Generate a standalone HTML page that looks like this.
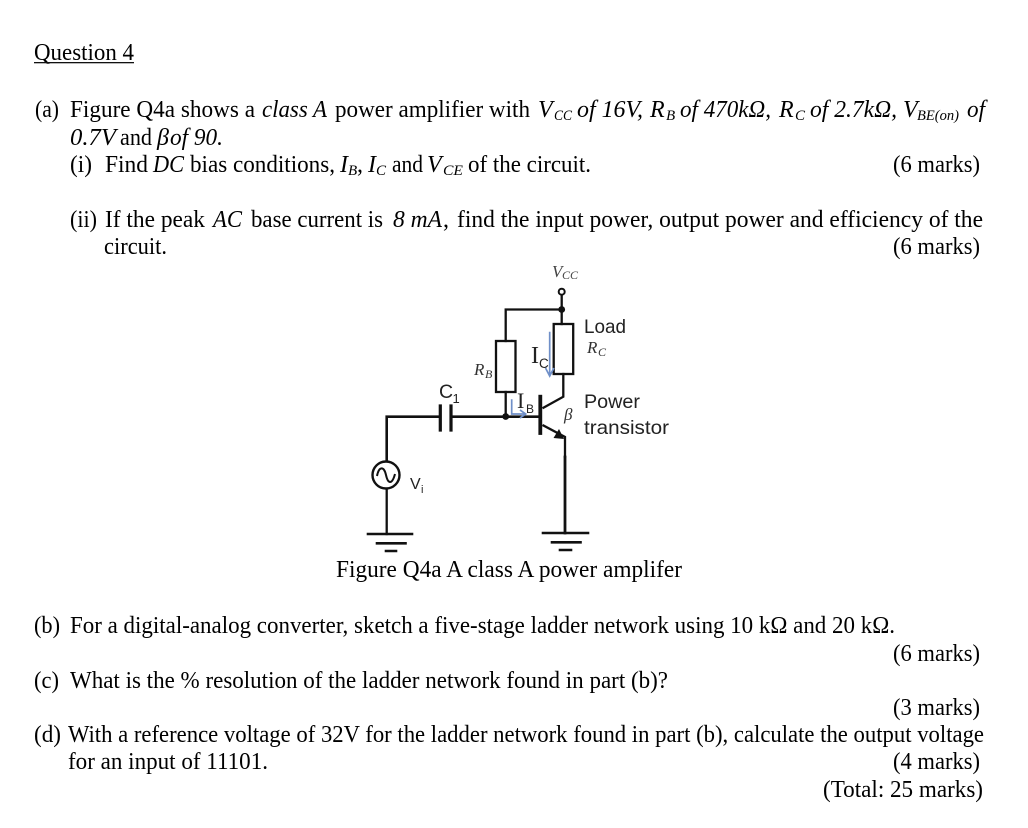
<!DOCTYPE html>
<html><head><meta charset="utf-8">
<style>
html,body{margin:0;padding:0;background:#fff}
svg{display:block;filter:blur(.3px)}
text{font-family:"Liberation Serif",serif;font-size:24px;fill:#000}
.i{font-style:italic}
.s{font-size:15px;font-style:italic}
.a{font-family:"Liberation Sans",sans-serif;font-size:19.500px;fill:#222}
.w{fill:none;stroke:#111;stroke-width:2.300}
</style></head><body>
<svg width="1028" height="828" viewBox="0 0 1028 828" xmlns="http://www.w3.org/2000/svg">
<text x="34" y="60" textLength="100" lengthAdjust="spacingAndGlyphs">Question 4</text>
<rect x="34" y="62" width="100" height="1.300" fill="#111"/>

<text x="35" y="117" textLength="24" lengthAdjust="spacingAndGlyphs">(a)</text>
<text x="70" y="117" textLength="185" lengthAdjust="spacingAndGlyphs">Figure Q4a shows a</text>
<text x="262" y="117" class="i" textLength="65" lengthAdjust="spacingAndGlyphs">class A</text>
<text x="335" y="117" textLength="195" lengthAdjust="spacingAndGlyphs">power amplifier with</text>
<text x="538" y="117" class="i">V</text><text x="554" y="120" class="s" textLength="18" lengthAdjust="spacingAndGlyphs">CC</text>
<text x="577" y="117" class="i" textLength="66" lengthAdjust="spacingAndGlyphs">of 16V,</text>
<text x="650" y="117" class="i">R</text><text x="666" y="120" class="s">B</text>
<text x="680" y="117" class="i" textLength="91" lengthAdjust="spacingAndGlyphs">of 470kΩ,</text>
<text x="779" y="117" class="i">R</text><text x="795" y="120" class="s">C</text>
<text x="810" y="117" class="i" textLength="87" lengthAdjust="spacingAndGlyphs">of 2.7kΩ,</text>
<text x="903" y="117" class="i">V</text><text x="917" y="120" class="s" textLength="42" lengthAdjust="spacingAndGlyphs">BE(on)</text>
<text x="967" y="117" class="i" textLength="18" lengthAdjust="spacingAndGlyphs">of</text>

<text x="70" y="145" class="i" textLength="46" lengthAdjust="spacingAndGlyphs">0.7V</text>
<text x="120" y="145" textLength="32" lengthAdjust="spacingAndGlyphs">and</text>
<text x="157" y="145" class="i">β</text>
<text x="170" y="145" class="i" textLength="53" lengthAdjust="spacingAndGlyphs">of 90.</text>

<text x="70" y="172" textLength="22" lengthAdjust="spacingAndGlyphs">(i)</text>
<text x="105" y="172" textLength="43" lengthAdjust="spacingAndGlyphs">Find</text>
<text x="153" y="172" class="i" textLength="31" lengthAdjust="spacingAndGlyphs">DC</text>
<text x="190" y="172" textLength="145" lengthAdjust="spacingAndGlyphs">bias conditions,</text>
<text x="340" y="172" class="i">I</text><text x="348" y="175" class="s">B</text><text x="357" y="172">,</text>
<text x="368" y="172" class="i">I</text><text x="376" y="175" class="s">C</text>
<text x="392" y="172" textLength="31" lengthAdjust="spacingAndGlyphs">and</text>
<text x="427" y="172" class="i">V</text><text x="443" y="175" class="s" textLength="20" lengthAdjust="spacingAndGlyphs">CE</text>
<text x="468" y="172" textLength="123" lengthAdjust="spacingAndGlyphs">of the circuit.</text>
<text x="893" y="172" textLength="87" lengthAdjust="spacingAndGlyphs">(6 marks)</text>

<text x="70" y="227" textLength="27" lengthAdjust="spacingAndGlyphs">(ii)</text>
<text x="105" y="227" textLength="100" lengthAdjust="spacingAndGlyphs">If the peak</text>
<text x="213" y="227" class="i" textLength="29" lengthAdjust="spacingAndGlyphs">AC</text>
<text x="251" y="227" textLength="132" lengthAdjust="spacingAndGlyphs">base current is</text>
<text x="393" y="227" class="i" textLength="49" lengthAdjust="spacingAndGlyphs">8 mA</text><text x="443" y="227">,</text>
<text x="457" y="227" textLength="526" lengthAdjust="spacingAndGlyphs">find the input power, output power and efficiency of the</text>
<text x="104" y="254" textLength="63" lengthAdjust="spacingAndGlyphs">circuit.</text>
<text x="893" y="254" textLength="87" lengthAdjust="spacingAndGlyphs">(6 marks)</text>

<!-- circuit -->
<g stroke-linecap="square">
<path class="w" d="M561.700 296V324"/>
<path class="w" d="M561.700 309.500H505.700V341"/>
<rect class="w" x="496" y="341" width="19.500" height="51"/>
<path class="w" d="M505.700 392V416"/>
<rect class="w" x="553.700" y="324" width="19.500" height="50"/>
<path class="w" d="M563.300 374V396.700L543.500 407.700"/>
<path d="M540.300 396.700V433" stroke="#111" stroke-width="3.800" fill="none"/>
<path d="M386.700 466V416.700H440M451 416.700H540" fill="none" stroke="#111" stroke-width="2.600"/>
<path d="M440.300 406V430M451 406V430" stroke="#111" stroke-width="3.200" fill="none"/>
<path class="w" d="M543.500 425.500L565 437V457"/>
<path d="M565 457V533" stroke="#111" stroke-width="2.800" fill="none"/>
<path class="w" d="M386.700 489V534"/>
<path d="M368 534H412M377 543.300H405.500M386 551H396M543 533H588M552 542.300H580.500M560 550H571" stroke="#111" stroke-width="2.600" fill="none"/>
</g>
<circle cx="561.700" cy="291.700" r="3" fill="#fff" stroke="#111" stroke-width="2"/>
<circle cx="561.700" cy="309.500" r="3.400" fill="#111"/>
<circle cx="505.700" cy="416.500" r="3.400" fill="#111"/>
<path d="M559 431L564 441L553.500 440Z" fill="#111" transform="translate(0,-2)"/>
<circle cx="386" cy="475" r="13.500" fill="#fff" stroke="#111" stroke-width="2.400"/>
<path d="M377 476C379 466 384 466 386 475S392 485 395 474" fill="none" stroke="#111" stroke-width="2"/>

<path d="M549.700 331.700V375M545.500 368L549.700 376L553.900 368" fill="none" stroke="#6f8fc8" stroke-width="1.700"/>
<path d="M511.700 399.300V414H525.500M520 410L525.700 414L520 418" fill="none" stroke="#6f8fc8" stroke-width="1.700"/>

<text x="552" y="277" class="i" style="font-size:17px;fill:#444">V</text>
<text x="562" y="279" class="s" style="font-size:12px;fill:#444">CC</text>
<text x="584" y="333" class="a" textLength="42" lengthAdjust="spacingAndGlyphs">Load</text>
<text x="587" y="353" class="i" style="font-size:17px;fill:#333">R</text>
<text x="598" y="356" class="s" style="font-size:12px;fill:#333">C</text>
<text x="474" y="375" class="i" style="font-size:17px;fill:#333">R</text>
<text x="485" y="378" class="s" style="font-size:12px;fill:#333">B</text>
<text x="531" y="363" style="font-size:24px;fill:#222">I</text>
<text x="539" y="368" class="a" style="font-size:13.500px">C</text>
<text x="517" y="408" style="font-size:22px;fill:#222">I</text>
<text x="526" y="413" class="a" style="font-size:12px">B</text>
<text x="439" y="398" class="a">C</text>
<text x="452.500" y="403" class="a" style="font-size:13px">1</text>
<text x="584" y="408" class="a" textLength="56" lengthAdjust="spacingAndGlyphs">Power</text>
<text x="584" y="434" class="a" textLength="85" lengthAdjust="spacingAndGlyphs">transistor</text>
<text x="564" y="420" class="i" style="font-size:17px;fill:#333">β</text>
<text x="410" y="489" class="a" style="font-size:16px">V</text>
<text x="421" y="493" class="a" style="font-size:11px">i</text>

<text x="336" y="577" textLength="346" lengthAdjust="spacingAndGlyphs">Figure Q4a A class A power amplifer</text>

<text x="34" y="633" textLength="26" lengthAdjust="spacingAndGlyphs">(b)</text>
<text x="70" y="633" textLength="825" lengthAdjust="spacingAndGlyphs">For a digital-analog converter, sketch a five-stage ladder network using 10 kΩ and 20 kΩ.</text>
<text x="893" y="661" textLength="87" lengthAdjust="spacingAndGlyphs">(6 marks)</text>
<text x="34" y="688" textLength="25" lengthAdjust="spacingAndGlyphs">(c)</text>
<text x="70" y="688" textLength="598" lengthAdjust="spacingAndGlyphs">What is the % resolution of the ladder network found in part (b)?</text>
<text x="893" y="715" textLength="87" lengthAdjust="spacingAndGlyphs">(3 marks)</text>
<text x="34" y="742" textLength="27" lengthAdjust="spacingAndGlyphs">(d)</text>
<text x="68" y="742" textLength="916" lengthAdjust="spacingAndGlyphs">With a reference voltage of 32V for the ladder network found in part (b), calculate the output voltage</text>
<text x="68" y="769" textLength="200" lengthAdjust="spacingAndGlyphs">for an input of 11101.</text>
<text x="893" y="769" textLength="87" lengthAdjust="spacingAndGlyphs">(4 marks)</text>
<text x="823" y="797" textLength="160" lengthAdjust="spacingAndGlyphs">(Total: 25 marks)</text>
</svg>
</body></html>
